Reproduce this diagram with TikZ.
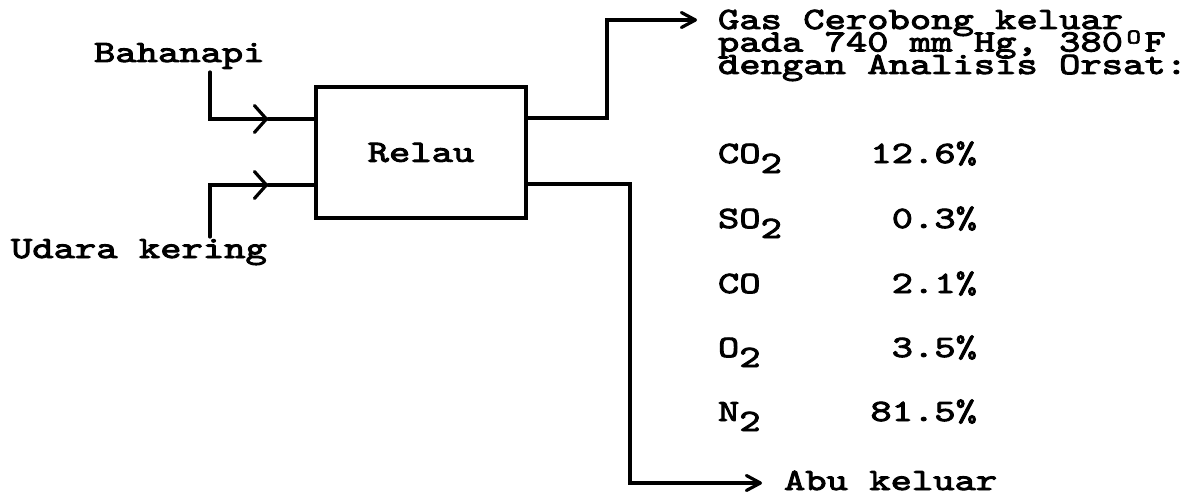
\documentclass[tikz,border=0pt]{standalone}
\usepackage{fontspec}
\setmonofont{lmmono10-regular.otf}[FakeStretch=1.31,FakeBold=3]
\usetikzlibrary{arrows.meta}
\newcommand{\sbtwo}{\raisebox{-10pt}{2}}
\begin{document}
\begin{tikzpicture}[x=1pt,y=-1pt,
  every node/.style={inner sep=0pt, outer sep=0pt, font=\ttfamily\fontsize{31}{31}\selectfont},
  lbl/.style={anchor=base west},
  val/.style={anchor=base east},
  flow/.style={line width=3.2pt, line cap=round, line join=miter},
  inarrow/.style={flow, -{Straight Barb[length=12pt,width=27pt,round]}},
  outarrow/.style={flow, -{Straight Barb[length=14pt,width=15pt,round]}},
  boxstyle/.style={draw, line width=3.2pt, minimum width=210pt, minimum height=131pt}]
\fill[white] (0,0) rectangle (1198,495);
\useasboundingbox (0,0) rectangle (1198,495);

\node[boxstyle] (relau) at (421,152.5) {Relau};

\node[lbl] (bahanapi) at (94,62) {Bahanapi};
\node[lbl] (udara) at (11,258) {Udara kering};

\coordinate (bahTop) at (210,72);
\coordinate (bahArr) at (268,119);
\coordinate (udBot) at (210,237);
\coordinate (udArr) at (268,185);
\draw[inarrow] (bahTop) |- (bahArr);
\draw[flow] (bahArr) -- (relau.west |- bahArr);
\draw[inarrow] (udBot) |- (udArr);
\draw[flow] (udArr) -- (relau.west |- udArr);

\coordinate (gasX) at (607,118);
\coordinate (gasTip) at (697,20);
\coordinate (abuX) at (630,184);
\coordinate (abuTip) at (762,483);
\draw[outarrow] (relau.east |- gasX) -- (gasX) |- (gasTip);
\draw[outarrow] (relau.east |- abuX) -- (abuX) |- (abuTip);

\node[lbl] (gas1) at (718,29) {Gas Cerobong keluar};
\node[lbl] (gas2) at (718,51.5) {pada 740 mm Hg, 380\makebox[21.4pt]{\raisebox{8pt}{\fontsize{21}{21}\selectfont O}}F};
\node[lbl] (gas3) at (718,74) {dengan Analisis Orsat:};

\node[lbl] (co2) at (718,163) {CO\sbtwo};
\node[val] (co2v) at (977,163) {12.6\%};
\node[lbl] (so2) at (718,228) {SO\sbtwo};
\node[val] (so2v) at (977,228) {0.3\%};
\node[lbl] (co) at (718,293) {CO};
\node[val] (cov) at (977,293) {2.1\%};
\node[lbl] (o2) at (718,357) {O\sbtwo};
\node[val] (o2v) at (977,357) {3.5\%};
\node[lbl] (n2) at (718,421) {N\sbtwo};
\node[val] (n2v) at (977,421) {81.5\%};

\node[lbl] (abu) at (784,490) {Abu keluar};
\end{tikzpicture}
\end{document}
